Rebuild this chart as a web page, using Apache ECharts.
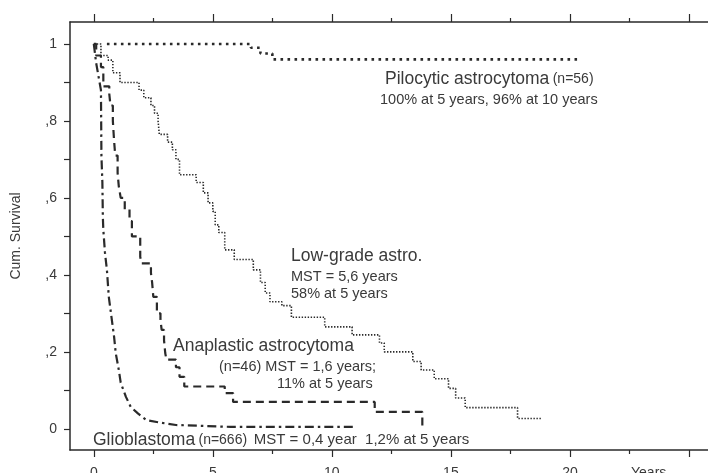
<!DOCTYPE html>
<html>
<head>
<meta charset="utf-8">
<script src="https://cdn.jsdelivr.net/npm/echarts@6/dist/echarts.min.js"></script>
<style>
html, body { margin: 0; padding: 0; background: #fff; }
#chart { width: 708px; height: 473px; }
</style>
</head>
<body>
<div id="chart"></div>
<script>
// axis ticks
var xMajorTicks = [0, 5, 10, 15, 20, 25];
var xMinorTicks = [2.5, 7.5, 12.5, 17.5, 22.5];
var xTickLabels = [0, 5, 10, 15, 20];
var yTickValues = [0, 0.1, 0.2, 0.3, 0.4, 0.5, 0.6, 0.7, 0.8, 0.9, 1];
var yLabelValues = [0, 0.2, 0.4, 0.6, 0.8, 1];
var yLabelTexts = ['0', ',2', ',4', ',6', ',8', '1'];

// Pilocytic astrocytoma
var piloYears = [0.55, 6.6, 7.0, 7.5, 20.3];
var piloSurv = [1, 0.99, 0.975, 0.96, 0.96];

// Low-grade astrocytoma
var lowYears = [0, 0.3, 0.6, 0.8, 1.1, 1.9, 2.1, 2.4, 2.55, 2.7, 2.75, 3.1, 3.3, 3.45, 3.6,
	4.3, 4.6, 4.8, 5.0, 5.1, 5.25, 5.5, 5.9, 6.7, 7.0, 7.2, 7.4, 7.9, 8.3, 9.7,
	10.85, 12.0, 12.2, 13.4, 13.75, 14.3, 14.9, 15.2, 15.6, 17.8, 18.8];
var lowSurv = [1, 0.97, 0.958, 0.925, 0.9, 0.88, 0.86, 0.84, 0.82, 0.8, 0.765, 0.745, 0.725, 0.7, 0.66,
	0.64, 0.613, 0.587, 0.565, 0.53, 0.51, 0.465, 0.44, 0.413, 0.38, 0.353, 0.33, 0.32, 0.29, 0.265,
	0.244, 0.223, 0.2, 0.175, 0.153, 0.13, 0.105, 0.08, 0.055, 0.027, 0.027];

// Anaplastic astrocytoma
var anaYears = [0, 0.1, 0.3, 0.4, 0.65, 0.7, 0.8, 0.85, 0.9, 1.0, 1.05, 1.13, 1.3, 1.5, 1.6,
	1.95, 2.0, 2.4, 2.45, 2.5, 2.65, 2.8, 2.85, 2.95, 3.0, 3.05, 3.45, 3.6, 3.8, 5.5, 5.85, 11.8, 13.8];
var anaSurv = [1, 0.97, 0.94, 0.89, 0.87, 0.84, 0.8, 0.75, 0.71, 0.665, 0.63, 0.6, 0.57, 0.54, 0.5,
	0.447, 0.43, 0.405, 0.38, 0.343, 0.3, 0.283, 0.257, 0.23, 0.197, 0.18, 0.16, 0.135, 0.11, 0.093, 0.07, 0.044, 0.005];

// Glioblastoma
var glioYears = [0, 0.1, 0.2, 0.3, 0.32, 0.36, 0.38, 0.4, 0.42, 0.47, 0.55, 0.63, 0.7, 0.85, 0.92,
	1.05, 1.13, 1.35, 1.55, 1.85, 2.2, 2.8, 3.45, 5.75, 11.0];
var glioSurv = [1, 0.95, 0.915, 0.88, 0.71, 0.64, 0.55, 0.517, 0.5, 0.457, 0.413, 0.343, 0.31, 0.24, 0.197,
	0.153, 0.12, 0.083, 0.057, 0.04, 0.023, 0.016, 0.01, 0.005, 0.005];

var pairs = function(xs, ys) {
	return xs.map(function(x, i) { return [x, ys[i]]; });
};

var ink = '#2a2a2a';
var txt = '#3a3a3a';
var font = 'Liberation Sans, Arial, sans-serif';

var baseX = {
	type: 'value',
	min: -1,
	max: 25.8,
	splitLine: { show: false },
	axisLine: { show: false, onZero: false },
	axisTick: { show: false },
	axisLabel: { show: false }
};

var makeLine = function(name, xs, ys, style, step) {
	return {
		name: name,
		type: 'line',
		step: step,
		data: pairs(xs, ys),
		symbol: 'none',
		lineStyle: style,
		silent: true
	};
};

var chart = echarts.init(document.getElementById('chart'));
chart.setOption({
	animation: false,
	backgroundColor: '#fff',
	grid: { left: 70, right: 0, top: 22, bottom: 23, outerBoundsMode: 'none', containLabel: false },
	xAxis: [
		Object.assign({}, baseX, {
			position: 'bottom',
			axisLine: { show: true, onZero: false, lineStyle: { color: ink, width: 1.5 } },
			axisTick: { show: true, customValues: xMajorTicks, length: 7, lineStyle: { color: ink, width: 1.2 } },
			axisLabel: { show: true, customValues: xTickLabels, margin: 16, fontSize: 14, color: txt, fontFamily: font }
		}),
		Object.assign({}, baseX, {
			position: 'bottom',
			axisTick: { show: true, customValues: xMinorTicks, length: 4, lineStyle: { color: ink, width: 1.2 } }
		}),
		Object.assign({}, baseX, {
			position: 'top',
			axisLine: { show: true, onZero: false, lineStyle: { color: ink, width: 1.5 } },
			axisTick: { show: true, customValues: xMajorTicks, length: 8, lineStyle: { color: ink, width: 1.2 } }
		}),
		Object.assign({}, baseX, {
			position: 'top',
			axisTick: { show: true, customValues: xMinorTicks, length: 4, lineStyle: { color: ink, width: 1.2 } }
		})
	],
	yAxis: [{
		type: 'value',
		min: -0.055,
		max: 1.057,
		position: 'left',
		splitLine: { show: false },
		axisLine: { show: true, onZero: false, lineStyle: { color: ink, width: 1.5 } },
		axisTick: { show: true, customValues: yTickValues, length: 6, lineStyle: { color: ink, width: 1.2 } },
		axisLabel: {
			customValues: yLabelValues,
			margin: 13,
			fontSize: 14,
			color: txt,
			fontFamily: font,
			formatter: function(v) {
				var i = yLabelValues.indexOf(v);
				return i >= 0 ? yLabelTexts[i] : '';
			}
		},
		name: 'Cum. Survival',
		nameLocation: 'middle',
		nameGap: 47,
		nameTextStyle: { fontSize: 14, color: txt, fontFamily: font }
	}],
	graphic: [
		{ type: 'text', left: 385, top: 70, style: { text: '{a|Pilocytic astrocytoma} {b|(n=56)}', fill: txt,
			rich: { a: { fontSize: 17.5, fontFamily: font, fill: txt }, b: { fontSize: 14, fontFamily: font, fill: txt } } } },
		{ type: 'text', left: 380, top: 92, style: { text: '100% at 5 years, 96% at 10 years', font: '14.5px ' + font, fill: txt } },
		{ type: 'text', left: 291, top: 247, style: { text: 'Low-grade astro.', font: '17.5px ' + font, fill: txt } },
		{ type: 'text', left: 291, top: 269, style: { text: 'MST = 5,6 years', font: '14.5px ' + font, fill: txt } },
		{ type: 'text', left: 291, top: 286, style: { text: '58% at 5 years', font: '14.5px ' + font, fill: txt } },
		{ type: 'text', left: 173, top: 337, style: { text: 'Anaplastic astrocytoma', font: '17.5px ' + font, fill: txt } },
		{ type: 'text', left: 219, top: 359, style: { text: '(n=46) MST = 1,6 years;', font: '14.5px ' + font, fill: txt } },
		{ type: 'text', left: 277, top: 376, style: { text: '11% at 5 years', font: '14.5px ' + font, fill: txt } },
		{ type: 'text', left: 93, top: 431, style: { text: '{a|Glioblastoma} {b|(n=666)}  {c|MST = 0,4 year  1,2% at 5 years}', fill: txt,
			rich: { a: { fontSize: 17.5, fontFamily: font, fill: txt }, b: { fontSize: 14, fontFamily: font, fill: txt }, c: { fontSize: 15, fontFamily: font, fill: txt } } } },
		{ type: 'text', left: 631, top: 466, style: { text: 'Years', font: '14px ' + font, fill: txt } }
	],
	series: [
		makeLine('Pilocytic astrocytoma', piloYears, piloSurv, { color: ink, width: 2.6, type: [2.6, 4.4] }, 'end'),
		makeLine('Low-grade astrocytoma', lowYears, lowSurv, { color: ink, width: 1.6, type: [1.4, 1.6] }, 'end'),
		makeLine('Anaplastic astrocytoma', anaYears, anaSurv, { color: ink, width: 2.2, type: [8, 5] }, 'end'),
		makeLine('Glioblastoma', glioYears, glioSurv, { color: ink, width: 2.2, type: [9, 4, 2.5, 4] }, false)
	]
});
</script>
</body>
</html>
